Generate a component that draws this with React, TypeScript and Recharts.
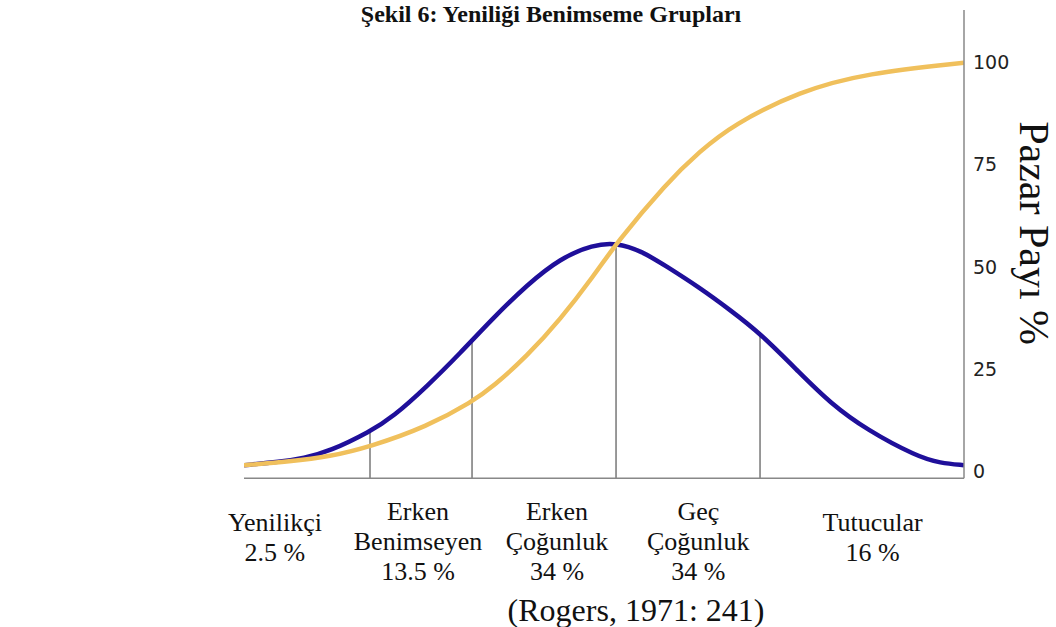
import React from 'react';
import { LineChart, Line, XAxis, YAxis, ReferenceLine } from 'recharts';

// Adoption (bell) curve: position along the adoption timeline (0-100) and market share value
const bellX = [0, 5, 8.3, 11.9, 17.5, 20.7, 25.4, 30, 34.6, 39.3, 43.9, 48.5, 51.7, 55.2, 58.7, 63.3, 67.5, 71.7, 77.2, 81.4, 86.5, 93.5, 96.7, 100];
const bellY = [1.6, 2.4, 3.3, 5.0, 9.8, 13.4, 20.8, 28.9, 37.5, 45.6, 52.1, 55.4, 55.9, 53.9, 50.1, 44.9, 39.5, 33.8, 24.1, 16.8, 10.2, 3.7, 2.1, 1.6];

// Cumulative (S) curve
const sX = [0, 6.4, 11.9, 17.5, 25.4, 31.7, 34.6, 39.3, 43.9, 48.5, 51.7, 58.7, 63.3, 67.9, 77.2, 86.5, 100];
const sY = [1.6, 2.5, 3.7, 6.1, 11, 17.1, 20.8, 28.2, 37.1, 47.6, 55.8, 70.5, 78.2, 84.7, 92.9, 97.3, 99.8];

// Group boundaries and the bell height at each boundary
const boundaryX = [17.5, 31.67, 51.67, 71.67];
const boundaryH = [9.6, 32.2, 55.6, 33.8];

// Group labels (centre position on the timeline, lines of text)
const groupAt = [4.3, 24.17, 43.47, 63.1, 87.3];
const groupLines = [
  ['Yenilikçi', '2.5 %'],
  ['Erken', 'Benimseyen', '13.5 %'],
  ['Erken', 'Çoğunluk', '34 %'],
  ['Geç', 'Çoğunluk', '34 %'],
  ['Tutucular', '16 %'],
];

const yTicks = [0, 25, 50, 75, 100];
const title = 'Şekil 6: Yeniliği Benimseme Grupları';
const yLabel = 'Pazar Payı %';
const source = '(Rogers, 1971: 241)';

const bellData = bellX.map((x, i) => ({ x, v: bellY[i] }));
const sData = sX.map((x, i) => ({ x, v: sY[i] }));

const SERIF = '"Liberation Serif", "Times New Roman", serif';
const Y_MIN = -1.6;
const Y_MAX = 112.7;

const GroupTick = (props: any) => {
  const { x, y, payload } = props;
  const idx = groupAt.indexOf(payload.value);
  const lines = idx >= 0 ? groupLines[idx] : [];
  const start = lines.length === 3 ? 42 : 53;
  return (
    <g>
      {lines.map((t, i) => (
        <text
          key={i}
          x={x}
          y={y + start + i * 30}
          textAnchor="middle"
          fontFamily={SERIF}
          fontSize={26}
          fill="#111"
        >
          {t}
        </text>
      ))}
    </g>
  );
};

export default function App() {
  return (
    <div style={{ position: 'absolute', left: 0, top: 0, width: 1056, height: 627, background: '#fff' }}>
      <LineChart
        width={1056}
        height={627}
        margin={{ top: 10, right: 32, bottom: 0.7, left: 244 }}
      >
        <XAxis
          type="number"
          dataKey="x"
          domain={[0, 100]}
          ticks={groupAt}
          interval={0}
          height={148}
          tickLine={false}
          tickSize={0}
          tickMargin={0}
          axisLine={{ stroke: '#888', strokeWidth: 1.5 }}
          tick={<GroupTick />}
          allowDataOverflow
        />
        <YAxis
          orientation="right"
          type="number"
          domain={[Y_MIN, Y_MAX]}
          ticks={yTicks}
          interval={0}
          width={60}
          tickLine={false}
          tickSize={0}
          tickMargin={9}
          axisLine={{ stroke: '#888', strokeWidth: 1.5 }}
          tick={{ fill: '#222', fontSize: 19, fontFamily: '"DejaVu Sans", sans-serif' }}
          allowDataOverflow
          label={(p: any) => {
            const vb = p.viewBox || {};
            const cx = (vb.x ?? 964) + 56;
            const cy = (vb.y ?? 10) + (vb.height ?? 468) / 2 - 11;
            return (
              <text
                x={cx}
                y={cy}
                textAnchor="middle"
                fontFamily={SERIF}
                fontSize={42}
                fill="#111"
                transform={`rotate(90, ${cx}, ${cy})`}
              >
                {yLabel}
              </text>
            );
          }}
        />
        {boundaryX.map((bx, i) => (
          <ReferenceLine
            key={i}
            segment={[{ x: bx, y: Y_MIN }, { x: bx, y: boundaryH[i] }]}
            stroke="#555"
            strokeWidth={1.2}
            ifOverflow="visible"
          />
        ))}
        <Line
          data={bellData}
          dataKey="v"
          type="basis"
          stroke="#1f0f9a"
          strokeWidth={4.5}
          dot={false}
          activeDot={false}
          isAnimationActive={false}
        />
        <Line
          data={sData}
          dataKey="v"
          type="basis"
          stroke="#f0c05c"
          strokeWidth={4.5}
          dot={false}
          activeDot={false}
          isAnimationActive={false}
        />
      </LineChart>
      <svg
        width={1056}
        height={627}
        style={{ position: 'absolute', left: 0, top: 0, pointerEvents: 'none' }}
      >
        <text x={551} y={22} textAnchor="middle" fontFamily={SERIF} fontWeight="bold" fontSize={24} fill="#111">
          {title}
        </text>
        <text x={636} y={621} textAnchor="middle" fontFamily={SERIF} fontSize={32} fill="#111">
          {source}
        </text>
      </svg>
    </div>
  );
}
